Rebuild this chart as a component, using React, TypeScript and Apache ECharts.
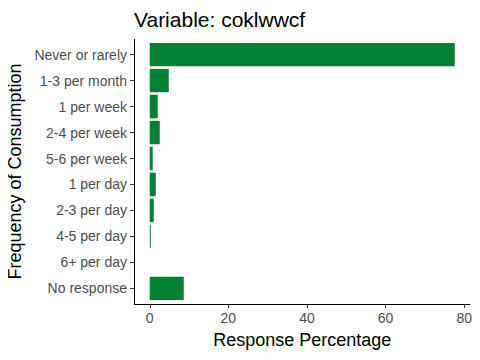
import React, { useEffect, useRef } from "react";
import * as echarts from "echarts";

const categories = [
  "Never or rarely",
  "1-3 per month",
  "1 per week",
  "2-4 per week",
  "5-6 per week",
  "1 per day",
  "2-3 per day",
  "4-5 per day",
  "6+ per day",
  "No response",
];
const percentages = [77.6, 4.84, 2.04, 2.55, 0.76, 1.53, 1.02, 0.25, 0, 8.66];
const xTicks = [0, 20, 40, 60, 80];

const FONT = "Liberation Sans, Arial, sans-serif";

export default function App() {
  const ref = useRef<HTMLDivElement>(null);
  useEffect(() => {
    if (!ref.current) return;
    const chart = echarts.init(ref.current, undefined, { renderer: "svg" });
    const maxV = Math.max(...percentages);
    chart.setOption({
      animation: false,
      backgroundColor: "#ffffff",
      textStyle: { fontFamily: FONT },
      title: {
        text: "Variable: coklwwcf",
        left: 134,
        top: 9,
        padding: 0,
        textStyle: { fontFamily: FONT, fontSize: 21, fontWeight: "normal", color: "#000000" },
      },
      grid: {
        left: 134.5,
        right: 10,
        top: 41.6,
        bottom: 58.6,
        containLabel: false,
        outerBoundsMode: "none",
      },
      xAxis: {
        type: "value",
        min: -maxV * 0.05,
        max: maxV * 1.05,
        offset: 2.6,
        name: "Response Percentage",
        nameLocation: "middle",
        nameGap: 27,
        nameTextStyle: { fontFamily: FONT, fontSize: 18, color: "#000000" },
        axisLine: { show: true, onZero: false, lineStyle: { color: "#000000", width: 1 } },
        axisTick: {
          show: true,
          length: 4,
          customValues: xTicks,
          lineStyle: { color: "#333333", width: 1 },
        },
        axisLabel: {
          customValues: xTicks,
          margin: 7,
          fontFamily: FONT,
          fontSize: 14,
          color: "#4D4D4D",
        },
        splitLine: { show: false },
      },
      yAxis: {
        type: "category",
        data: categories,
        inverse: true,
        name: "Frequency of Consumption",
        nameLocation: "middle",
        nameRotate: 90,
        nameGap: 98,
        nameTextStyle: { fontFamily: FONT, fontSize: 18, color: "#000000" },
        axisLine: { show: true, onZero: false, lineStyle: { color: "#000000", width: 1 } },
        axisTick: {
          show: true,
          alignWithLabel: true,
          length: 4.5,
          lineStyle: { color: "#333333", width: 1 },
        },
        axisLabel: { margin: 7.5, fontFamily: FONT, fontSize: 14, color: "#4D4D4D" },
        splitLine: { show: false },
      },
      graphic: [
        {
          type: "line",
          shape: { x1: 134.5, y1: 39, x2: 134.5, y2: 304.5 },
          style: { stroke: "#000000", lineWidth: 1 },
          z: 10,
        },
      ],
      series: [
        {
          type: "bar",
          data: percentages,
          barCategoryGap: "10%",
          itemStyle: { color: "#028033" },
        },
      ],
    });
    return () => chart.dispose();
  }, []);
  return <div ref={ref} style={{ width: 480, height: 360, margin: -8 }} />;
}
